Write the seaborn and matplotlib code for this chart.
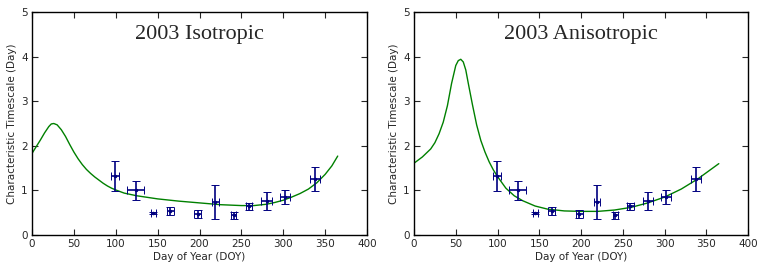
import numpy as np
import pandas as pd
import seaborn as sns
import matplotlib.pyplot as plt

# measured timescales (same points on both panels)
doy = [99, 124, 145, 165, 198, 219, 241, 259, 280, 302, 338]
tau = [1.32, 1.00, 0.49, 0.53, 0.47, 0.74, 0.44, 0.64, 0.76, 0.85, 1.25]
doy_err = [5, 10, 3, 4, 4, 4, 3, 4, 6, 6, 6]
tau_err = [0.34, 0.21, 0.03, 0.09, 0.08, 0.39, 0.07, 0.07, 0.21, 0.15, 0.27]

# model curves
iso_doy = [0, 5, 10, 15, 20, 23, 26, 30, 35, 40, 45, 50, 55, 60, 65, 70, 75, 80, 85,
           90, 95, 100, 110, 125, 150, 175, 200, 225, 250, 265, 280, 290, 300, 310,
           320, 330, 340, 350, 358, 365]
iso_tau = [1.83, 1.98, 2.13, 2.29, 2.43, 2.49, 2.50, 2.47, 2.36, 2.21, 2.03, 1.86,
           1.71, 1.58, 1.47, 1.38, 1.30, 1.23, 1.16, 1.10, 1.05, 1.01, 0.94, 0.88,
           0.81, 0.76, 0.72, 0.68, 0.66, 0.66, 0.69, 0.73, 0.78, 0.85, 0.93, 1.03,
           1.17, 1.36, 1.55, 1.77]
ani_doy = [0, 10, 20, 25, 30, 35, 40, 45, 50, 53, 56, 59, 62, 65, 70, 75, 80, 85, 90,
           95, 100, 110, 120, 130, 145, 160, 180, 200, 220, 240, 260, 280, 300, 320,
           340, 365]
ani_tau = [1.61, 1.75, 1.93, 2.07, 2.27, 2.53, 2.90, 3.40, 3.80, 3.91, 3.94, 3.88,
           3.70, 3.40, 2.92, 2.47, 2.12, 1.86, 1.64, 1.46, 1.31, 1.05, 0.88, 0.77,
           0.65, 0.58, 0.54, 0.53, 0.53, 0.56, 0.62, 0.72, 0.85, 1.03, 1.26, 1.60]

titles = ["2003 Isotropic", "2003 Anisotropic"]

sns.set_style("white")
plt.rcParams.update({
    "xtick.direction": "in", "ytick.direction": "in",
    "xtick.top": True, "ytick.right": True,
    "xtick.bottom": True, "ytick.left": True,
    "xtick.major.size": 4, "ytick.major.size": 4,
    "axes.edgecolor": "black", "axes.linewidth": 1.0,
    "font.family": ["DejaVu Sans"],
})

fig = plt.figure(figsize=(7.64, 2.71), dpi=100)
ax1 = fig.add_axes([0.0419, 0.1328, 0.4385, 0.8229])
ax2 = fig.add_axes([0.5419, 0.1328, 0.4372, 0.8229])

curves = [(iso_doy, iso_tau), (ani_doy, ani_tau)]
for ax, (cx, cy), title in zip([ax1, ax2], curves, titles):
    df = pd.DataFrame({"doy": cx, "tau": cy})
    sns.lineplot(data=df, x="doy", y="tau", ax=ax, color="green", linewidth=1.0)
    ax.errorbar(doy, tau, xerr=doy_err, yerr=tau_err, fmt=".", color="navy",
                markersize=3, elinewidth=1.2, capsize=3, capthick=0.7, ecolor="navy")
    ax.set_xlim(0, 400)
    ax.set_ylim(0, 5)
    ax.set_xticks(range(0, 401, 50))
    ax.set_yticks(range(0, 6))
    ax.tick_params(labelsize=7.5, pad=3)
    ax.set_xlabel("Day of Year (DOY)", fontsize=7.5, labelpad=2)
    ax.set_ylabel("Characteristic Timescale (Day)", fontsize=7.5, labelpad=3)
    ax.text(0.5, 0.9, title, transform=ax.transAxes, ha="center", va="center",
            fontsize=16, family="Liberation Serif")

fig.savefig("out.png", dpi=100)
